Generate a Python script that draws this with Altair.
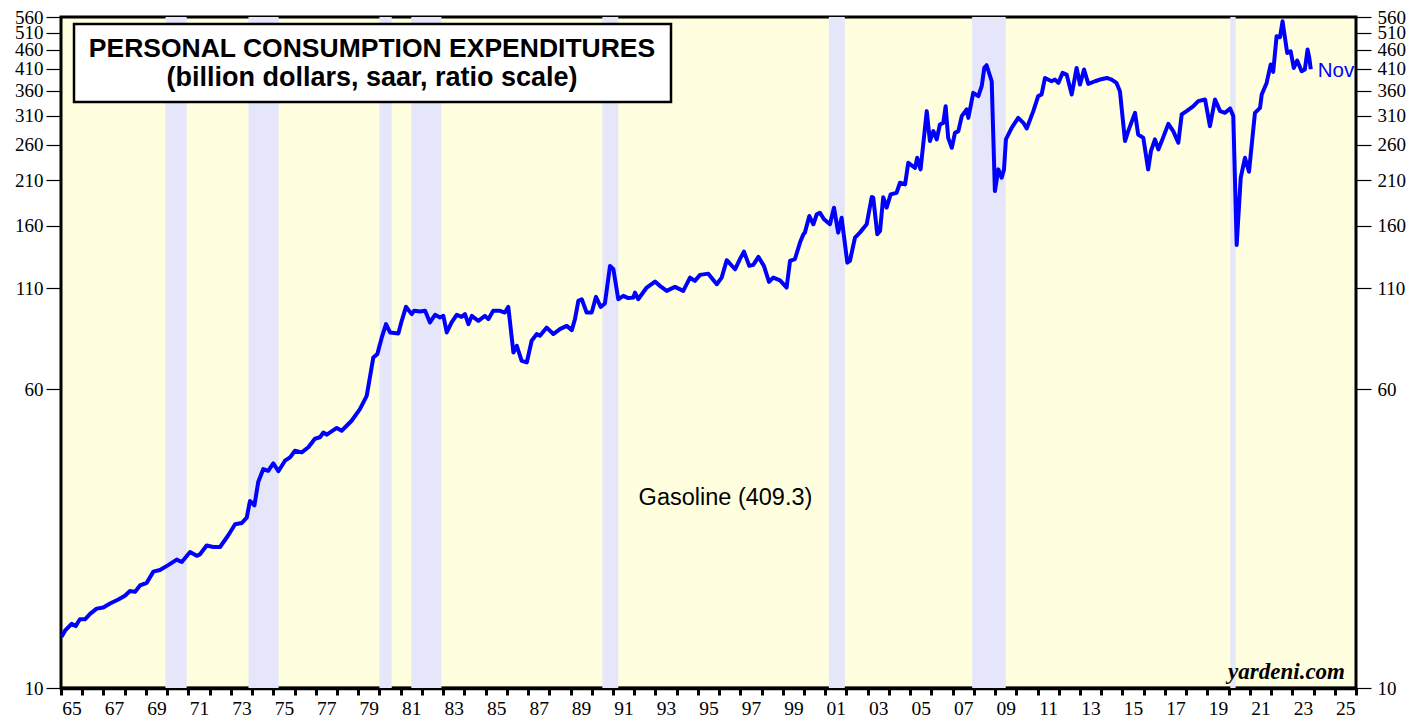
import altair as alt
import pandas as pd

# ---- data (decimal year, billion $) ----
years = [
    1965.03, 1965.19, 1965.50, 1965.69, 1965.89, 1966.13, 1966.37, 1966.68, 1966.99, 1967.31,
    1967.70, 1968.01, 1968.25, 1968.49, 1968.72, 1969.04, 1969.35, 1969.66, 1970.05, 1970.45,
    1970.69, 1971.08, 1971.39, 1971.55, 1971.86, 1972.17, 1972.49, 1972.88, 1973.20, 1973.51,
    1973.75, 1973.90, 1974.11, 1974.29, 1974.53, 1974.76, 1975.00, 1975.24, 1975.55, 1975.79,
    1976.02, 1976.34, 1976.65, 1976.96, 1977.20, 1977.36, 1977.52, 1977.99, 1978.22, 1978.69,
    1979.08, 1979.40, 1979.71, 1979.90, 1980.11, 1980.31, 1980.50, 1980.89, 1981.05, 1981.25,
    1981.52, 1981.63, 1981.91, 1982.15, 1982.38, 1982.62, 1982.85, 1983.01, 1983.17, 1983.40,
    1983.64, 1983.87, 1984.03, 1984.19, 1984.35, 1984.66, 1984.97, 1985.13, 1985.36, 1985.68,
    1985.91, 1986.07, 1986.31, 1986.47, 1986.70, 1986.94, 1987.17, 1987.41, 1987.56, 1987.88,
    1988.19, 1988.50, 1988.82, 1989.06, 1989.21, 1989.37, 1989.53, 1989.76, 1990.00, 1990.20,
    1990.42, 1990.62, 1990.86, 1991.02, 1991.25, 1991.49, 1991.72, 1991.96, 1992.04, 1992.19,
    1992.59, 1992.98, 1993.21, 1993.53, 1993.92, 1994.31, 1994.63, 1994.86, 1995.10, 1995.49,
    1995.89, 1996.12, 1996.36, 1996.75, 1996.98, 1997.17, 1997.42, 1997.61, 1997.85, 1998.11,
    1998.35, 1998.55, 1998.87, 1999.18, 1999.34, 1999.57, 1999.81, 1999.97, 2000.04, 2000.25,
    2000.44, 2000.60, 2000.75, 2000.94, 2001.22, 2001.41, 2001.61, 2001.77, 2002.04, 2002.16,
    2002.40, 2002.63, 2002.95, 2003.19, 2003.26, 2003.45, 2003.58, 2003.73, 2003.89, 2004.08,
    2004.36, 2004.52, 2004.76, 2004.91, 2005.23, 2005.33, 2005.49, 2005.78, 2005.93, 2006.09,
    2006.25, 2006.40, 2006.56, 2006.67, 2006.79, 2006.96, 2007.11, 2007.27, 2007.43, 2007.66,
    2007.74, 2007.97, 2008.21, 2008.37, 2008.49, 2008.60, 2008.84, 2008.99, 2009.15, 2009.31,
    2009.42, 2009.51, 2009.78, 2010.09, 2010.33, 2010.49, 2010.80, 2011.03, 2011.19, 2011.35,
    2011.66, 2011.82, 2011.98, 2012.18, 2012.37, 2012.61, 2012.84, 2013.00, 2013.19, 2013.39,
    2013.71, 2013.94, 2014.26, 2014.49, 2014.72, 2014.88, 2015.12, 2015.27, 2015.59, 2015.74,
    2015.98, 2016.21, 2016.34, 2016.53, 2016.69, 2016.85, 2017.16, 2017.39, 2017.63, 2017.79,
    2018.02, 2018.34, 2018.57, 2018.89, 2019.12, 2019.36, 2019.60, 2019.83, 2020.07, 2020.22,
    2020.38, 2020.57, 2020.77, 2020.96, 2021.24, 2021.48, 2021.56, 2021.79, 2021.98, 2022.10,
    2022.26, 2022.42, 2022.54, 2022.76, 2022.92, 2023.07, 2023.23, 2023.44, 2023.59, 2023.72,
    2023.80, 2023.87,
]
values = [
    13.6, 14.1, 14.7, 14.5, 15.1, 15.1, 15.6, 16.1, 16.2, 16.6,
    17.0, 17.4, 17.9, 17.8, 18.5, 18.8, 20.1, 20.3, 20.9, 21.6,
    21.3, 22.6, 22.1, 22.3, 23.5, 23.3, 23.3, 25.0, 26.7, 26.9,
    27.8, 30.7, 29.9, 34.4, 37.2, 36.8, 38.5, 36.7, 39.1, 39.9,
    41.5, 41.1, 42.4, 44.6, 45.0, 46.3, 45.7, 47.6, 46.8, 49.7,
    53.3, 57.7, 72.6, 74.1, 81.9, 88.7, 84.4, 83.9, 90.5, 98.4,
    94.2, 96.1, 95.7, 96.1, 89.6, 93.8, 92.3, 93.2, 84.4, 89.6,
    93.8, 92.7, 94.2, 88.7, 93.2, 90.5, 93.2, 91.4, 96.1, 96.1,
    95.1, 98.4, 74.8, 77.9, 71.2, 70.5, 80.3, 83.6, 82.7, 86.9,
    83.6, 86.1, 87.8, 85.6, 91.4, 102.0, 103.0, 95.1, 95.1, 104.5,
    98.4, 100.4, 125.8, 123.3, 103.0, 105.1, 103.7, 104.1, 107.2, 103.0,
    110.5, 114.5, 111.6, 108.3, 110.9, 108.3, 117.3, 115.0, 119.2, 120.1,
    112.7, 117.3, 130.2, 123.3, 131.0, 137.1, 125.8, 126.6, 132.8, 125.8,
    114.3, 117.3, 115.4, 110.5, 129.6, 131.0, 144.7, 152.1, 153.6, 169.7,
    161.5, 171.5, 173.1, 166.4, 161.5, 178.4, 153.6, 168.0, 128.3, 129.6,
    149.1, 153.6, 161.5, 190.2, 189.6, 152.1, 155.1, 190.0, 178.4, 193.3,
    195.1, 207.2, 205.2, 233.5, 226.6, 240.6, 224.5, 318.4, 266.0, 282.4,
    268.7, 293.9, 296.8, 328.0, 271.3, 255.5, 279.5, 282.4, 309.0, 321.6,
    305.8, 355.2, 348.3, 369.8, 412.6, 419.3, 380.9, 197.1, 224.5, 213.5,
    224.5, 268.7, 288.0, 305.8, 296.8, 287.0, 318.4, 348.3, 351.8, 388.5,
    380.9, 384.8, 377.1, 400.5, 396.6, 351.8, 412.6, 373.5, 408.7, 374.9,
    380.9, 384.8, 388.5, 384.8, 377.1, 358.8, 266.0, 282.4, 315.1, 276.8,
    271.3, 224.5, 250.5, 268.7, 253.1, 266.0, 294.9, 282.4, 263.3, 312.1,
    318.4, 328.0, 338.0, 341.5, 290.9, 341.5, 318.4, 315.1, 323.5, 309.0,
    142.7, 213.5, 240.6, 221.3, 315.1, 324.7, 351.8, 377.1, 421.0, 402.9,
    498.9, 496.0, 545.8, 451.3, 456.0, 412.6, 431.3, 404.6, 408.7, 460.6,
    438.0, 409.3,
]

rec_start = [1969.92, 1973.83, 1980.00, 1981.50, 1990.50, 2001.17, 2007.92, 2020.08]
rec_end = [1970.92, 1975.25, 1980.58, 1982.92, 1991.25, 2001.92, 2009.50, 2020.33]

y_ticks = [10, 60, 110, 160, 210, 260, 310, 360, 410, 460, 510, 560]
x_ticks = list(range(1965, 2027))

title_lines = ["PERSONAL CONSUMPTION EXPENDITURES", "(billion dollars, saar, ratio scale)"]
series_label = "Gasoline (409.3)"
last_label = "Nov"
source_label = "yardeni.com"

# ---- frames ----
df = pd.DataFrame({"year": years, "value": values})
rec = pd.DataFrame({"start": rec_start, "end": rec_end})
last = pd.DataFrame({"year": [years[-1]], "value": [values[-1]], "t": [last_label]})
lab = pd.DataFrame({"year": [1996.3], "value": [31.3], "t": [series_label]})

W, H = 1295, 671

xscale = alt.Scale(domain=[1965, 2026], nice=False, zero=False)
yscale = alt.Scale(type="log", domain=[10, 560], nice=False)

x_axis = alt.Axis(
    values=x_ticks,
    labelExpr="datum.value % 2 == 1 && datum.value < 2026 ? slice(toString(datum.value), 2) : ''",
    labelOffset=10.6, labelFlush=False, labelOverlap=False, labelBound=False,
    tickSize=7, tickWidth=3, tickColor="black",
    domainWidth=3.5, domainColor="black",
    labelFont="Liberation Serif", labelFontSize=19.5, labelColor="black",
    labelPadding=4, grid=False, title=None,
)


def y_axis(orient):
    return alt.Axis(
        orient=orient, values=y_ticks, format="d",
        tickSize=15, tickWidth=1.2, tickColor="black", domain=False,
        labelFont="Liberation Serif", labelFontSize=19, labelColor="black",
        labelPadding=3 if orient == "left" else 6,
        labelFlush=False, labelOverlap=False, labelBound=False,
        grid=False, title=None,
    )


def xenc(field):
    return alt.X(field, scale=xscale, axis=x_axis)


bands = alt.Chart(rec).mark_rect(color="#E6E6FA").encode(
    x=xenc("start:Q"),
    x2="end:Q",
)

line = alt.Chart(df).mark_line(color="#0000FF", strokeWidth=4, strokeJoin="round").encode(
    x=xenc("year:Q"),
    y=alt.Y("value:Q", scale=yscale, axis=y_axis("left")),
)

right = alt.Chart(df).mark_line(opacity=0).encode(
    x=xenc("year:Q"),
    y=alt.Y("value:Q", scale=yscale, axis=y_axis("right")),
)

nov = alt.Chart(last).mark_text(
    align="left", baseline="middle", dx=7, dy=2,
    color="#0000FF", font="Liberation Sans", fontSize=20.5,
).encode(
    x=xenc("year:Q"),
    y=alt.Y("value:Q", scale=yscale, axis=None),
    text="t:N",
)

gas = alt.Chart(lab).mark_text(
    align="center", baseline="middle", color="black",
    font="Liberation Sans", fontSize=23.5,
).encode(
    x=xenc("year:Q"),
    y=alt.Y("value:Q", scale=yscale, axis=None),
    text="t:N",
)

one = pd.DataFrame({"a": [0]})
box = alt.Chart(one).mark_rect(fill="white", stroke="black", strokeWidth=2.5).encode(
    x=alt.value(13), x2=alt.value(610), y=alt.value(7), y2=alt.value(85)
)
t1 = alt.Chart(pd.DataFrame({"t": [title_lines[0]]})).mark_text(
    font="Liberation Sans", fontSize=26.5, fontWeight="bold", color="black",
    align="center", baseline="middle",
).encode(x=alt.value(311), y=alt.value(32), text="t:N")
t2 = alt.Chart(pd.DataFrame({"t": [title_lines[1]]})).mark_text(
    font="Liberation Sans", fontSize=27, fontWeight="bold", color="black",
    align="center", baseline="middle",
).encode(x=alt.value(311), y=alt.value(61), text="t:N")

src = alt.Chart(pd.DataFrame({"t": [source_label]})).mark_text(
    font="Liberation Serif", fontSize=23, fontWeight="bold", fontStyle="italic",
    color="black", align="right", baseline="middle",
).encode(x=alt.value(1284), y=alt.value(655), text="t:N")

chart = (
    alt.layer(bands, line, right, nov, gas, box, t1, t2, src)
    .resolve_scale(y="independent")
    .properties(
        width=W, height=H,
        autosize=alt.AutoSizeParams(type="none"),
        padding={"left": 53, "top": 9, "right": 56, "bottom": 30},
        background="white",
    )
    .configure_view(stroke="black", strokeWidth=3, fill="#FFFFE0")
)

chart.save("out.html", embed_options={"renderer": "svg", "actions": False})
